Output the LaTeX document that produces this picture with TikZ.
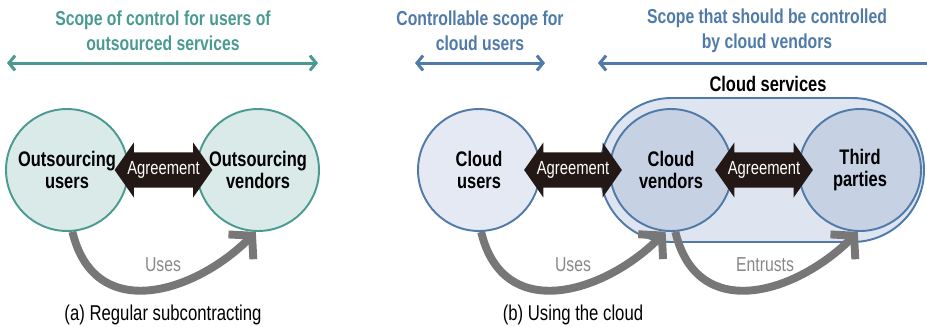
\documentclass[tikz,border=0pt]{standalone}
\usepackage{fontspec}
\setmainfont{Liberation Sans}[FakeStretch=0.78]
\usetikzlibrary{arrows.meta, shapes.arrows, positioning}
\definecolor{tealline}{RGB}{74,154,146}
\definecolor{tealfill}{RGB}{217,234,232}
\definecolor{blueline}{RGB}{80,122,168}
\definecolor{userfill}{RGB}{228,233,243}
\definecolor{svcfill}{RGB}{223,229,240}
\definecolor{vendfill}{RGB}{198,209,227}
\definecolor{dealink}{RGB}{35,24,21}
\definecolor{flowgray}{RGB}{119,119,119}
\definecolor{flowtext}{RGB}{136,136,136}

\begin{document}
\begin{tikzpicture}[x=0.02cm, y=-0.02cm,
  >={Straight Barb[length=3.5pt, width=8.5pt]},
  heading/.style={font=\fontsize{11.5}{14}\selectfont\bfseries, align=center},
  party/.style={circle, line width=1.1pt, minimum size=2.44cm, inner sep=0pt,
    font=\fontsize{12}{13}\selectfont\bfseries, align=center},
  deal/.style={double arrow, fill=dealink, text=white, double arrow head extend=5.7pt,
    double arrow tip angle=110, minimum height=1.86cm, inner xsep=0pt, inner ysep=5pt,
    font=\fontsize{10.8}{12}\selectfont},
  flow/.style={draw=flowgray, line width=4.5pt, -{Straight Barb[length=9pt, width=20pt]}},
  flowlabel/.style={text=flowtext, font=\fontsize{11.5}{13}\selectfont},
  span/.style={line width=1.7pt},
  caption/.style={font=\fontsize{12.2}{14}\selectfont}]
\useasboundingbox (0,0) rectangle (927,326);

% (a) regular subcontracting
\node[heading, text=tealline] (ttla) at (163,31) {Scope of control for users of\\outsourced services};
\coordinate (sa1) at (7,63);
\coordinate (sa2) at (318,63);
\draw[span, draw=tealline, <->] (sa1) -- (sa2);
\node[party, draw=tealline, fill=tealfill] (ou) at (67,170) {Outsourcing\\users};
\node[party, draw=tealline, fill=tealfill] (ov) at (258,170) {Outsourcing\\vendors};
\node[deal] (aga) at (163.5,170) {Agreement};
\draw[flow] (ou.-85) .. controls +(22,92) and +(-62,62) .. (ov.-92);
\node[flowlabel] (usa) at (163,265) {Uses};
\node[caption] (capa) at (163,315) {(a) Regular subcontracting};

% (b) using the cloud
\node[heading, text=blueline] (ttlb) at (480,31) {Controllable scope for\\cloud users};
\node[heading, text=blueline] (ttlc) at (767,31) {Scope that should be controlled\\by cloud vendors};
\coordinate (sb1) at (415,63);
\coordinate (sb2) at (545,63);
\coordinate (sc1) at (598,63);
\coordinate (sc2) at (927,63);
\draw[span, draw=blueline, <->] (sb1) -- (sb2);
\draw[span, draw=blueline, <-] (sc1) -- (sc2);
\node[draw=blueline, fill=svcfill, line width=1.1pt, rounded corners=1.43cm,
  minimum width=6.48cm, minimum height=2.88cm] (svc) at (762,170) {};
\node[heading, font=\fontsize{12}{13}\selectfont\bfseries] (svct) at (768,84) {Cloud services};
\node[party, draw=blueline, fill=userfill] (cu) at (479,170) {Cloud\\users};
\node[party, draw=blueline, fill=vendfill] (cv) at (671,170) {Cloud\\vendors};
\node[party, draw=blueline, fill=vendfill] (tp) at (860,170) {Third\\parties};
\node[deal] (agb) at (573,170) {Agreement};
\node[deal] (agc) at (764,170) {Agreement};
\draw[flow] (cu.-88) .. controls +(22,92) and +(-62,62) .. (cv.-95);
\draw[flow] (cv.-86) .. controls +(22,92) and +(-62,62) .. (tp.-92);
\node[flowlabel] (usb) at (573,265) {Uses};
\node[flowlabel] (ent) at (765,265) {Entrusts};
\node[caption] (capb) at (573,315) {(b) Using the cloud};
\end{tikzpicture}
\end{document}
